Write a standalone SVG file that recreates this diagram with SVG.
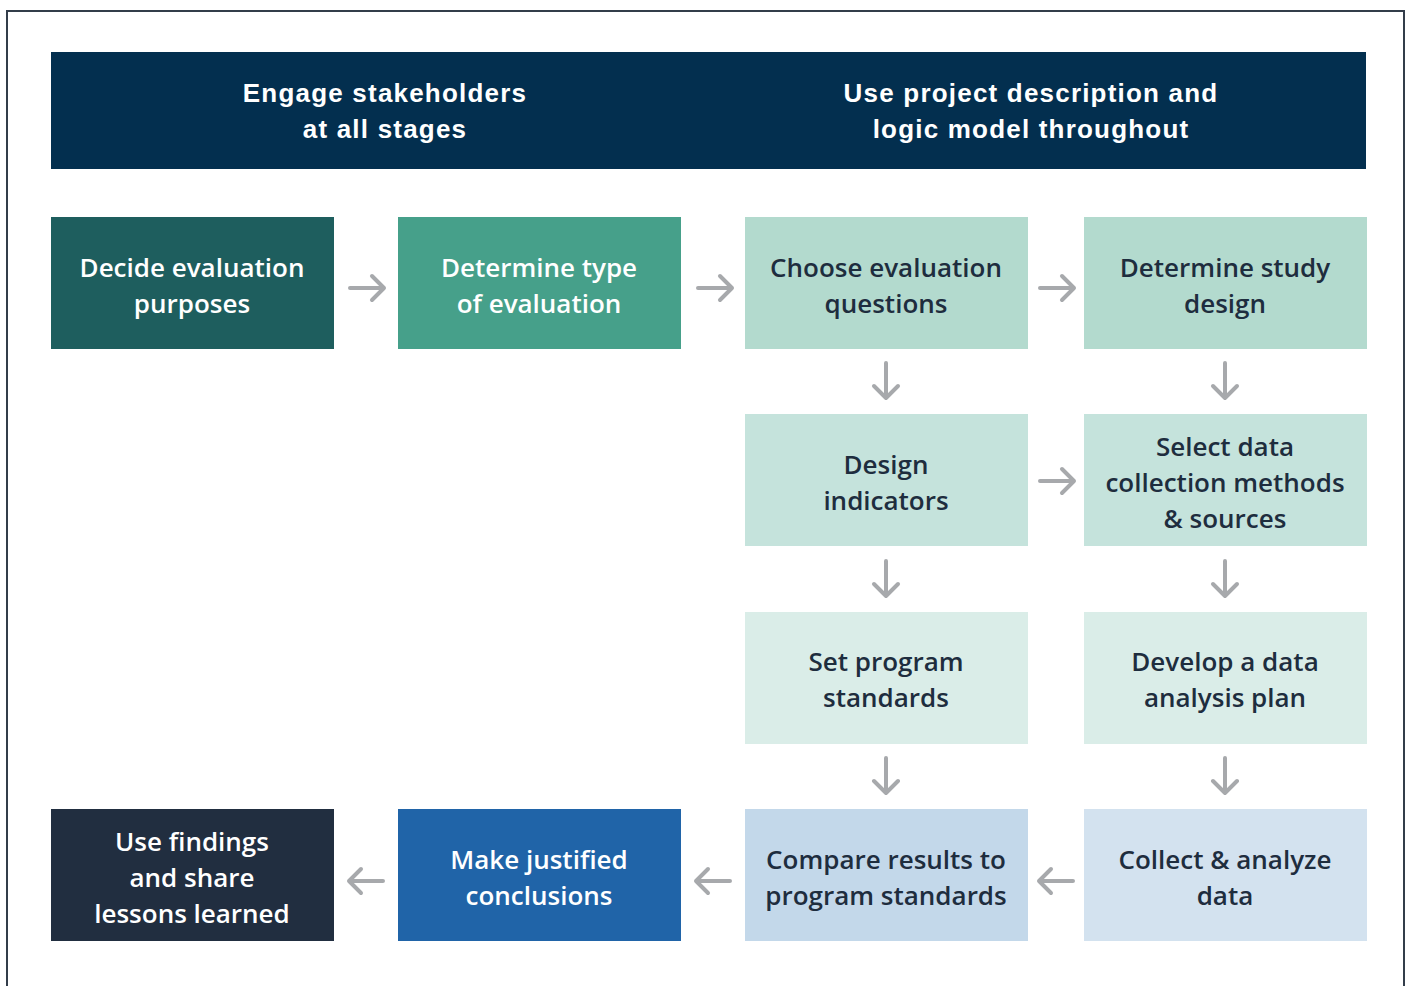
<svg xmlns="http://www.w3.org/2000/svg" width="1411" height="986" viewBox="0 0 1411 986">
<style>
.t{font-family:"Open Sans","Liberation Sans",Arial,sans-serif;font-size:26px;font-weight:600;text-anchor:middle}
.h{font-family:"Liberation Sans","Noto Sans",Arial,sans-serif;font-size:26px;font-weight:bold;fill:#ffffff;text-anchor:middle;letter-spacing:1.2px}
.w{fill:#ffffff}
.d{fill:#1e2d3e}
.a{fill:none;stroke:#a7a9ac;stroke-width:4;stroke-linecap:round;stroke-linejoin:round}
</style>
<rect x="0" y="0" width="1411" height="986" fill="#ffffff"/>
<rect x="7" y="11" width="1397" height="990" fill="none" stroke="#333d4a" stroke-width="2"/>
<g id="header">
<rect x="51" y="52" width="1315" height="117" fill="#032f4f"/>
<text class="h" x="385" y="102">Engage stakeholders</text>
<text class="h" x="385" y="138">at all stages</text>
<text class="h" x="1031" y="102">Use project description and</text>
<text class="h" x="1031" y="138">logic model throughout</text>
</g>
<g id="n1"><rect x="51" y="217" width="283" height="132" fill="#1e5e5e"/><text class="t w" x="192" y="277">Decide evaluation</text><text class="t w" x="192" y="313">purposes</text></g>
<g id="n2"><rect x="398" y="217" width="283" height="132" fill="#46a08a"/><text class="t w" x="539" y="277">Determine type</text><text class="t w" x="539" y="313">of evaluation</text></g>
<g id="n3"><rect x="745" y="217" width="283" height="132" fill="#b3dace"/><text class="t d" x="886" y="277">Choose evaluation</text><text class="t d" x="886" y="313">questions</text></g>
<g id="n4"><rect x="1084" y="217" width="283" height="132" fill="#b3dace"/><text class="t d" x="1225" y="277">Determine study</text><text class="t d" x="1225" y="313">design</text></g>
<g id="n5"><rect x="745" y="414" width="283" height="132" fill="#c5e3dc"/><text class="t d" x="886" y="474">Design</text><text class="t d" x="886" y="510">indicators</text></g>
<g id="n6"><rect x="1084" y="414" width="283" height="132" fill="#c5e3dc"/><text class="t d" x="1225" y="456">Select data</text><text class="t d" x="1225" y="492">collection methods</text><text class="t d" x="1225" y="528">&amp; sources</text></g>
<g id="n7"><rect x="745" y="612" width="283" height="132" fill="#daede8"/><text class="t d" x="886" y="671">Set program</text><text class="t d" x="886" y="707">standards</text></g>
<g id="n8"><rect x="1084" y="612" width="283" height="132" fill="#daede8"/><text class="t d" x="1225" y="671">Develop a data</text><text class="t d" x="1225" y="707">analysis plan</text></g>
<g id="n9"><rect x="745" y="809" width="283" height="132" fill="#c3d8ea"/><text class="t d" x="886" y="869">Compare results to</text><text class="t d" x="886" y="905">program standards</text></g>
<g id="n10"><rect x="1084" y="809" width="283" height="132" fill="#d3e2ef"/><text class="t d" x="1225" y="869">Collect &amp; analyze</text><text class="t d" x="1225" y="905">data</text></g>
<g id="n11"><rect x="398" y="809" width="283" height="132" fill="#2064a8"/><text class="t w" x="539" y="869">Make justified</text><text class="t w" x="539" y="905">conclusions</text></g>
<g id="n12"><rect x="51" y="809" width="283" height="132" fill="#212e40"/><text class="t w" x="192" y="851">Use findings</text><text class="t w" x="192" y="887">and share</text><text class="t w" x="192" y="923">lessons learned</text></g>
<g id="connectors">
<path class="a" d="M350 288H384M372 276L384 288L372 300"/>
<path class="a" d="M698 288H732M720 276L732 288L720 300"/>
<path class="a" d="M1040 288H1074M1062 276L1074 288L1062 300"/>
<path class="a" d="M1040 481H1074M1062 469L1074 481L1062 493"/>
<path class="a" d="M886 363V398M874 386L886 398L898 386"/>
<path class="a" d="M1225 363V398M1213 386L1225 398L1237 386"/>
<path class="a" d="M886 561V596M874 584L886 596L898 584"/>
<path class="a" d="M1225 561V596M1213 584L1225 596L1237 584"/>
<path class="a" d="M886 758V793M874 781L886 793L898 781"/>
<path class="a" d="M1225 758V793M1213 781L1225 793L1237 781"/>
<path class="a" d="M1073 881H1039M1051 869L1039 881L1051 893"/>
<path class="a" d="M730 881H696M708 869L696 881L708 893"/>
<path class="a" d="M383 881H349M361 869L349 881L361 893"/>
</g>
</svg>
